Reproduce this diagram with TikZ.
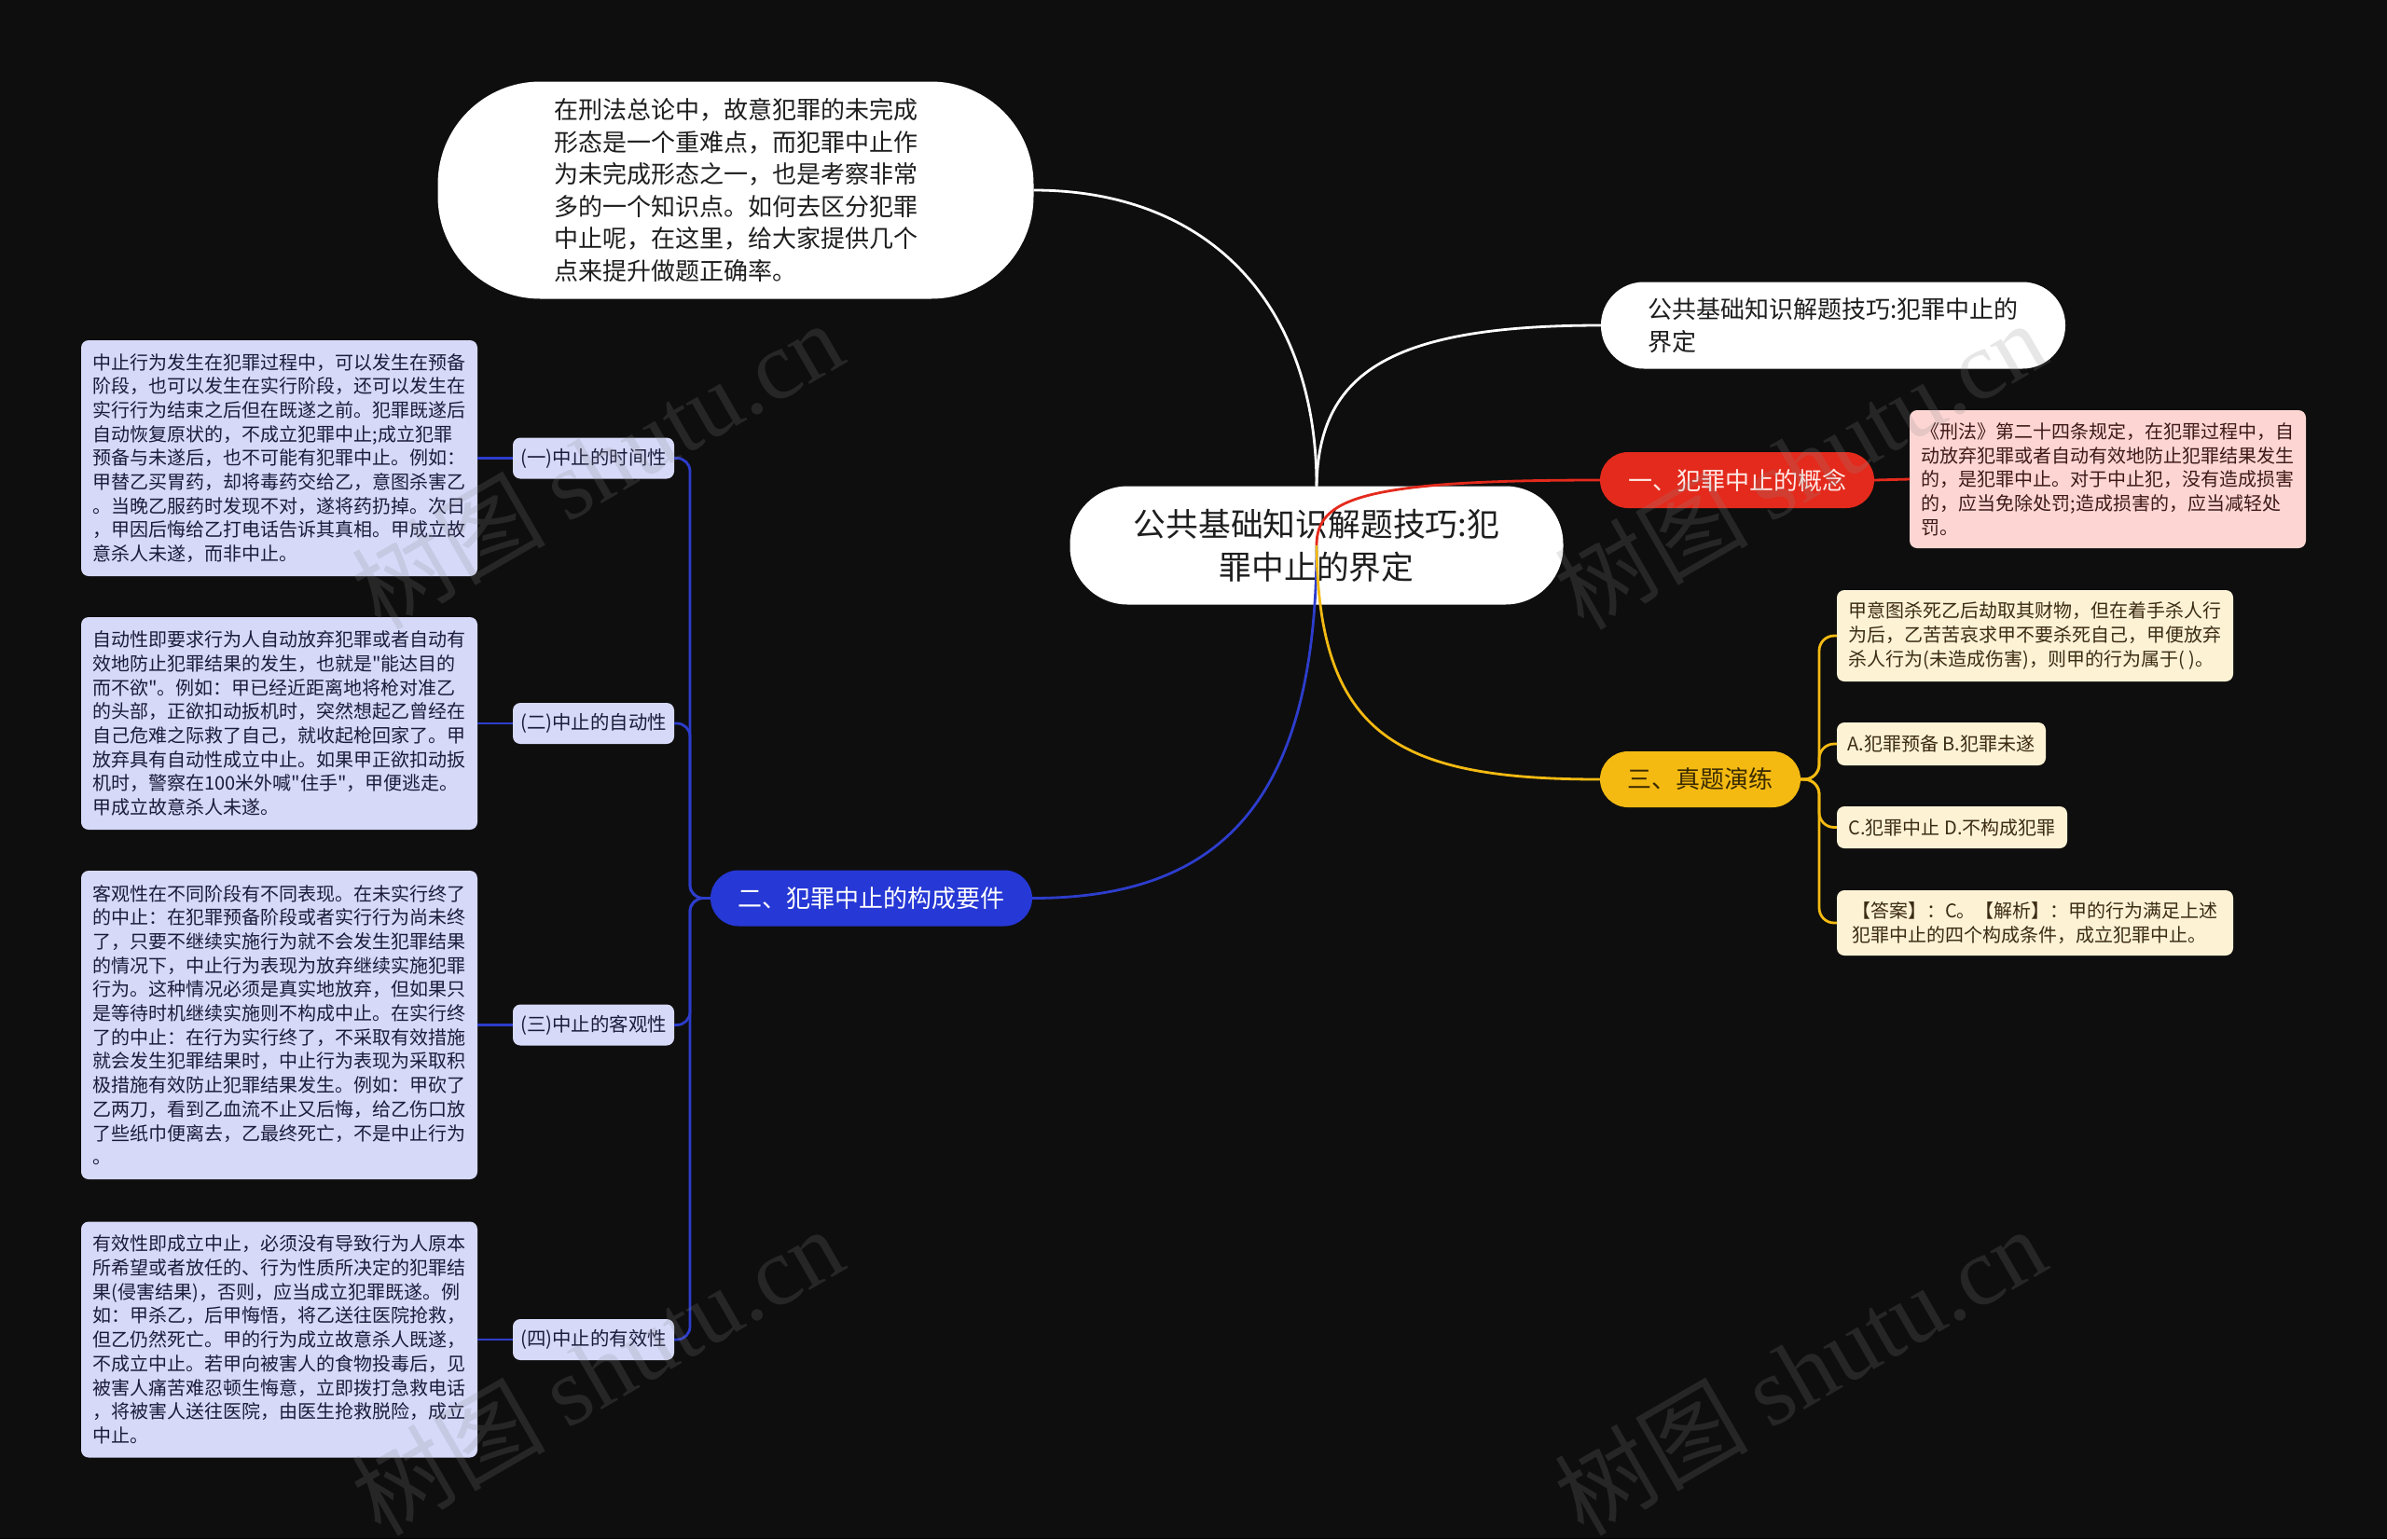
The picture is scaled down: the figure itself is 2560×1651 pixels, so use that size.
\documentclass[tikz,border=0pt]{standalone}
\usepackage{fontspec}
\newfontfamily\cjk{Noto Sans CJK SC}
\newfontfamily\wmlat{Liberation Serif}
\definecolor{bgc}{HTML}{0E0E0E}
\definecolor{darktxt}{HTML}{1E1E1E}
\definecolor{redc}{HTML}{E42A1C}
\definecolor{redtxt}{HTML}{FFEAE7}
\definecolor{pinkfill}{HTML}{FDD6D3}
\definecolor{pinktxt}{HTML}{3D1A17}
\definecolor{bluec}{HTML}{2638D5}
\definecolor{blueline}{HTML}{2D3DCC}
\definecolor{lavfill}{HTML}{D6D9F8}
\definecolor{lavtxt}{HTML}{1C1C3C}
\definecolor{yelc}{HTML}{F4BA12}
\definecolor{yeltxt}{HTML}{3A2A00}
\definecolor{creamfill}{HTML}{FEF2D5}
\definecolor{creamtxt}{HTML}{3A2C14}
\definecolor{wmgray}{HTML}{8A8A8A}
\begin{document}
\begin{tikzpicture}[x=0.5pt,y=-0.5pt,
  every node/.style={inner sep=0pt, outer sep=0pt},
  rootbox/.style={fill=white, text=darktxt, rounded corners=31pt, minimum width=264.5pt, minimum height=63.5pt, align=center, font=\cjk\fontsize{17.4}{23}\selectfont},
  introbox/.style={fill=white, text=darktxt, rounded corners=55pt, minimum width=319.5pt, minimum height=116.5pt, align=left, font=\cjk\fontsize{13}{17.3}\selectfont},
  subbox/.style={fill=white, text=darktxt, rounded corners=23pt, minimum width=249pt, minimum height=46.5pt, align=left, font=\cjk\fontsize{13}{17.5}\selectfont},
  branchbox/.style={rounded corners=15pt, minimum height=30pt, align=center, font=\cjk\fontsize{13}{15}\selectfont},
  leafbox/.style={rounded corners=4pt, align=left, minimum width=212.5pt, font=\cjk\fontsize{10}{12.85}\selectfont},
  lavleaf/.style={leafbox, fill=lavfill, text=lavtxt},
  pinkleaf/.style={leafbox, fill=pinkfill, text=pinktxt},
  creamleaf/.style={leafbox, fill=creamfill, text=creamtxt},
  labelbox/.style={fill=lavfill, text=lavtxt, rounded corners=4pt, minimum width=86.5pt, minimum height=22pt, font=\cjk\fontsize{10.2}{12}\selectfont},
  conn/.style={line width=1.4pt},
  wline/.style={conn, draw=white},
  rline/.style={conn, draw=redc},
  bline/.style={conn, draw=blueline},
  yline/.style={conn, draw=yelc},
  wm/.style={rotate=30, text=wmgray, text opacity=0.2}
]
\fill[bgc] (0,0) rectangle (2560,1651);
\useasboundingbox (0,0) rectangle (2560,1651);

% intro and subtitle
\node[introbox] (intro) at (789,204) {在刑法总论中，故意犯罪的未完成\\形态是一个重难点，而犯罪中止作\\为未完成形态之一，也是考察非常\\多的一个知识点。如何去区分犯罪\\中止呢，在这里，给大家提供几个\\点来提升做题正确率。};
\node[subbox] (sub) at (1966,349) {公共基础知识解题技巧:犯罪中止的\\界定};

% root
\node[rootbox] (root) at (1412,585) {公共基础知识解题技巧:犯\\罪中止的界定};

% white connectors
\draw[wline] (intro.east) .. controls (1300,204) and (1412,330) .. (root.north);
\draw[wline] (root.north) .. controls (1414,400) and (1490,349) .. (sub.west);

% branches
\node[branchbox, fill=redc, text=redtxt, minimum width=147pt] (b1) at (1863,515) {一、犯罪中止的概念};
\node[branchbox, fill=bluec, text=white, minimum width=172.5pt] (b2) at (934.5,963.5) {二、犯罪中止的构成要件};
\node[branchbox, fill=yelc, text=yeltxt, minimum width=107.5pt] (b3) at (1823.5,836) {三、真题演练};

% colored connectors from root
\draw[rline] (root.center) .. controls (1412,535) and (1460,515) .. (b1.west);
\draw[bline] (root.center) .. controls (1412,870) and (1300,963.5) .. (b2.east);
\draw[yline] (root.center) .. controls (1414,790) and (1500,836) .. (b3.west);

% red leaf
\node[pinkleaf, minimum height=74pt] (r1) at (2260.5,514) {《刑法》第二十四条规定，在犯罪过程中，自\\动放弃犯罪或者自动有效地防止犯罪结果发生\\的，是犯罪中止。对于中止犯，没有造成损害\\的，应当免除处罚;造成损害的，应当减轻处\\罚。};
\draw[rline] (b1.east) -- (r1.west);

% yellow leaves
\node[creamleaf, minimum height=49pt] (y1) at (2182.5,682) {甲意图杀死乙后劫取其财物，但在着手杀人行\\为后，乙苦苦哀求甲不要杀死自己，甲便放弃\\杀人行为(未造成伤害)，则甲的行为属于( )。};
\node[creamleaf, minimum width=112pt, minimum height=23pt, align=center] (y2) at (2082,798) {A.犯罪预备 B.犯罪未遂};
\node[creamleaf, minimum width=123.5pt, minimum height=22.5pt, align=center] (y3) at (2093.5,887.5) {C.犯罪中止 D.不构成犯罪};
\node[creamleaf, minimum height=35pt] (y4) at (2182.5,990) {【答案】：C。【解析】：甲的行为满足上述\\犯罪中止的四个构成条件，成立犯罪中止。};
\foreach \n in {y1,y2,y3,y4}{
  \draw[yline, rounded corners=8pt] (b3.east) -- (1951,836) |- (\n.west);
}

% blue labels
\node[labelbox] (l1) at (636.5,491.5) {(一)中止的时间性};
\node[labelbox] (l2) at (636.5,776) {(二)中止的自动性};
\node[labelbox] (l3) at (636.5,1099.5) {(三)中止的客观性};
\node[labelbox] (l4) at (636.5,1437) {(四)中止的有效性};
\foreach \n in {l1,l2,l3,l4}{
  \draw[bline, rounded corners=7pt] (b2.west) -- (740,963.5) |- (\n.east);
}

% blue leaves
\node[lavleaf, minimum height=126.5pt] (t1) at (299.5,491.5) {中止行为发生在犯罪过程中，可以发生在预备\\阶段，也可以发生在实行阶段，还可以发生在\\实行行为结束之后但在既遂之前。犯罪既遂后\\自动恢复原状的，不成立犯罪中止;成立犯罪\\预备与未遂后，也不可能有犯罪中止。例如：\\甲替乙买胃药，却将毒药交给乙，意图杀害乙\\。当晚乙服药时发现不对，遂将药扔掉。次日\\，甲因后悔给乙打电话告诉其真相。甲成立故\\意杀人未遂，而非中止。};
\node[lavleaf, minimum height=114pt] (t2) at (299.5,776) {自动性即要求行为人自动放弃犯罪或者自动有\\效地防止犯罪结果的发生，也就是"能达目的\\而不欲"。例如：甲已经近距离地将枪对准乙\\的头部，正欲扣动扳机时，突然想起乙曾经在\\自己危难之际救了自己，就收起枪回家了。甲\\放弃具有自动性成立中止。如果甲正欲扣动扳\\机时，警察在100米外喊"住手"，甲便逃走。\\甲成立故意杀人未遂。};
\node[lavleaf, minimum height=165.5pt] (t3) at (299.5,1099.5) {客观性在不同阶段有不同表现。在未实行终了\\的中止：在犯罪预备阶段或者实行行为尚未终\\了，只要不继续实施行为就不会发生犯罪结果\\的情况下，中止行为表现为放弃继续实施犯罪\\行为。这种情况必须是真实地放弃，但如果只\\是等待时机继续实施则不构成中止。在实行终\\了的中止：在行为实行终了，不采取有效措施\\就会发生犯罪结果时，中止行为表现为采取积\\极措施有效防止犯罪结果发生。例如：甲砍了\\乙两刀，看到乙血流不止又后悔，给乙伤口放\\了些纸巾便离去，乙最终死亡，不是中止行为\\。};
\node[lavleaf, minimum height=126.5pt] (t4) at (299.5,1437) {有效性即成立中止，必须没有导致行为人原本\\所希望或者放任的、行为性质所决定的犯罪结\\果(侵害结果)，否则，应当成立犯罪既遂。例\\如：甲杀乙，后甲悔悟，将乙送往医院抢救，\\但乙仍然死亡。甲的行为成立故意杀人既遂，\\不成立中止。若甲向被害人的食物投毒后，见\\被害人痛苦难忍顿生悔意，立即拨打急救电话\\，将被害人送往医院，由医生抢救脱险，成立\\中止。};
\draw[bline] (l1.west) -- (t1.east);
\draw[bline] (l2.west) -- (t2.east);
\draw[bline] (l3.west) -- (t3.east);
\draw[bline] (l4.west) -- (t4.east);

% watermarks
\node[wm] (wm1) at (640,498) {\cjk\fontsize{52}{56}\selectfont 树图 \wmlat shutu.cn};
\node[wm] (wm2) at (1930,498) {\cjk\fontsize{52}{56}\selectfont 树图 \wmlat shutu.cn};
\node[wm] (wm3) at (640,1470) {\cjk\fontsize{52}{56}\selectfont 树图 \wmlat shutu.cn};
\node[wm] (wm4) at (1930,1470) {\cjk\fontsize{52}{56}\selectfont 树图 \wmlat shutu.cn};
\end{tikzpicture}
\end{document}
